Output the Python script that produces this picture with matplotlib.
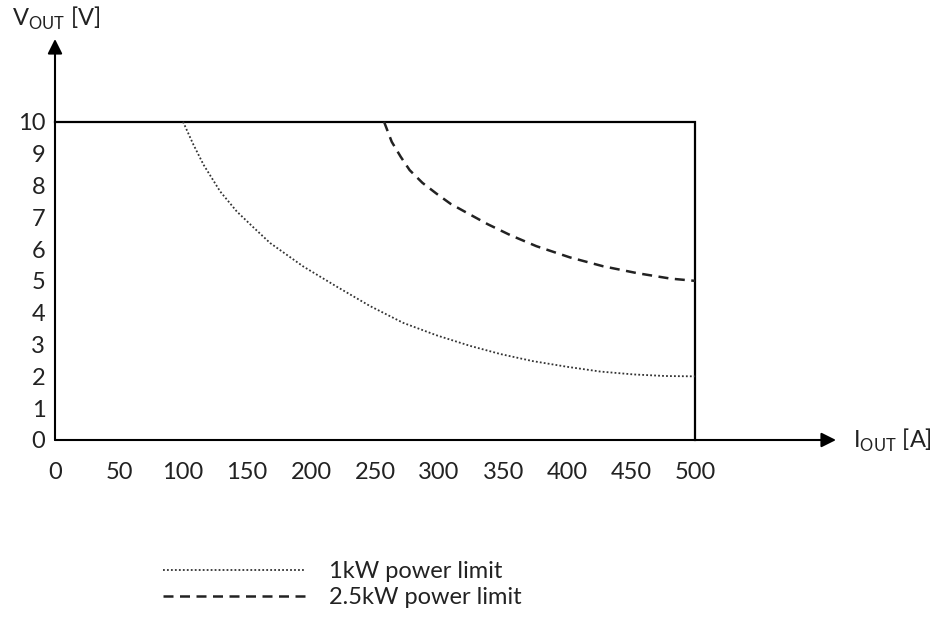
import numpy as np
import matplotlib
matplotlib.use('Agg')
import matplotlib.pyplot as plt

plt.rcParams['font.family'] = ['Lato', 'DejaVu Sans']
plt.rcParams['mathtext.fontset'] = 'custom'
plt.rcParams['mathtext.rm'] = 'Lato'

# Limits of the output envelope
i_max = 500
v_max = 10

# 1 kW power limit curve
i_1kw = [100, 108, 116, 129, 142, 155, 168, 194, 220, 246, 272, 298,
         324, 348, 373, 400, 426, 452, 477, 500]
v_1kw = [10.0, 9.29, 8.65, 7.81, 7.18, 6.68, 6.19, 5.45, 4.82, 4.21, 3.68, 3.29,
         2.96, 2.70, 2.48, 2.30, 2.15, 2.06, 2.01, 2.0]

# 2.5 kW power limit curve
i_25kw = [257, 263, 270, 277, 287, 298, 309, 323, 338, 356, 376, 402,
          428, 455, 481, 500]
v_25kw = [10.0, 9.37, 8.90, 8.48, 8.08, 7.74, 7.42, 7.11, 6.78, 6.43, 6.09, 5.74,
          5.46, 5.24, 5.07, 5.0]

x_ticks = [0, 50, 100, 150, 200, 250, 300, 350, 400, 450, 500]
y_ticks = [0, 1, 2, 3, 4, 5, 6, 7, 8, 9, 10]

FS = 17
W, H = 933, 636
fig = plt.figure(figsize=(W / 100, H / 100), dpi=100)
ax = fig.add_axes([55 / W, (H - 440) / H, 781 / W, 401 / H])
ax.set_xlim(0, 610)
ax.set_ylim(0, 12.6)

for s in ax.spines.values():
    s.set_visible(False)

# axes with arrows
arrow = dict(arrowstyle='-|>', mutation_scale=22, lw=1.5, color='black',
             shrinkA=0, shrinkB=0)
ax.annotate('', xy=(610, 0), xytext=(0, 0), arrowprops=arrow,
            annotation_clip=False)
ax.annotate('', xy=(0, 12.6), xytext=(0, 0), arrowprops=arrow,
            annotation_clip=False)

# envelope
ax.plot([0, i_max, i_max], [v_max, v_max, 0], color='black', lw=1.6,
        solid_joinstyle='miter', clip_on=False)

ax.plot(i_1kw, v_1kw, color='#333333', lw=1.3, linestyle=(0, (1, 1.2)),
        label='1kW power limit')
ax.plot(i_25kw, v_25kw, color='#222222', lw=1.8, linestyle=(0, (4, 2.6)),
        label='2.5kW power limit')

ax.set_xticks(x_ticks)
ax.set_yticks(y_ticks)
ax.tick_params(axis='both', length=0, labelsize=FS, colors='#222222')
ax.tick_params(axis='x', pad=16)
ax.tick_params(axis='y', pad=7)

fig.text(12 / W, 1 - 18 / H, r'V$_{\mathrm{OUT}}$ [V]', fontsize=FS,
         va='center', ha='left', color='#222222')
fig.text(853 / W, 1 - 440 / H, r'I$_{\mathrm{OUT}}$ [A]', fontsize=FS,
         va='center', ha='left', color='#222222')

fig.legend(loc='upper left', bbox_to_anchor=(163 / W, 1 - 561 / H),
           frameon=False, fontsize=FS, handlelength=6.0, borderpad=0,
           borderaxespad=0, handletextpad=1.05, labelspacing=0.22,
           labelcolor='#222222')

fig.savefig('out.png', dpi=100)
